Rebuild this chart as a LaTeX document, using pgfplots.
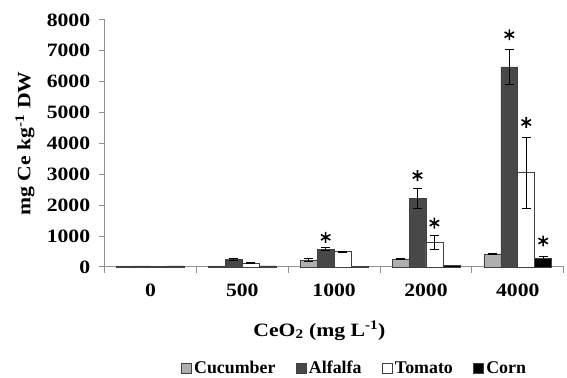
\documentclass[border=0pt]{standalone}
\usepackage{fontspec}
\setmainfont{Liberation Serif}[FakeStretch=1.15]
\newfontfamily\legfont{Liberation Serif}
\usepackage{pgfplots}
\pgfplotsset{compat=1.18}
\usepackage{pgfplotstable}

\definecolor{cuc}{RGB}{175,175,175}
\definecolor{alf}{RGB}{72,72,72}
\definecolor{axgray}{RGB}{145,145,145}

% bar values (x = category index)
\pgfplotstableread{
x y
0 30
1 30
2 230
3 260
4 420
}\cucumber
\pgfplotstableread{
x y
0 30
1 250
2 570
3 2220
4 6480
}\alfalfa
\pgfplotstableread{
x y
0 30
1 120
2 490
3 800
4 3050
}\tomato
\pgfplotstableread{
x y
0 30
1 30
2 20
3 50
4 280
}\corn
% error bars (x = bar centre)
\pgfplotstableread{
x y e
1.7234 230 40
2.7234 260 30
3.7234 420 30
}\cucumberErr
\pgfplotstableread{
x y e
0.9078 250 30
1.9078 570 50
2.9078 2220 320
3.9078 6480 560
}\alfalfaErr
\pgfplotstableread{
x y e
1.0922 120 20
2.0922 490 20
3.0922 800 230
4.0922 3050 1150
}\tomatoErr
\pgfplotstableread{
x y e
4.2766 280 60
}\cornErr
\pgfplotstableread{
x y
1.9078 960
2.9078 2960
3.0922 1420
3.9078 7520
4.0922 4680
4.2766 840
}\stars

\begin{document}
\begin{tikzpicture}
\begin{axis}[
  scale only axis,
  width=461bp, height=248bp,
  xmin=-0.5, xmax=4.5,
  ymin=0, ymax=8000,
  axis x line*=bottom, axis y line*=left,
  axis line style={draw=axgray, line width=1pt},
  xtick={-0.5,0.5,1.5,2.5,3.5,4.5},
  xticklabels={},
  extra x ticks={0,1,2,3,4},
  extra x tick labels={0,500,1000,2000,4000},
  extra x tick style={major tick length=0pt, xticklabel style={yshift=-14bp}},
  ytick={0,1000,...,8000},
  major tick length=6bp,
  tick style={draw=axgray, line width=1pt},
  tick align=outside,
  tick label style={font=\fontsize{19}{22}\selectfont\bfseries},
  scaled y ticks=false,
  yticklabel style={/pgf/number format/1000 sep={}, xshift=-5bp},
  /pgf/number format/assume math mode=true,
  label style={font=\fontsize{19}{22}\selectfont\bfseries},
  xlabel={CeO\textsubscript{2} (mg L\textsuperscript{-1})},
  ylabel={mg Ce kg\textsuperscript{-1} DW},
  xlabel style={at={(axis description cs:0.468,0)}, anchor=center, yshift=-64bp},
  ylabel style={at={(axis description cs:0,0.5)}, anchor=center, yshift=80bp},
  legend columns=4,
  legend style={draw=none, at={(0.545,-0.411)}, anchor=center,
    font=\legfont\fontsize{18}{20}\selectfont\bfseries,
    inner sep=0pt, nodes={inner xsep=2.5bp},
    /tikz/every odd column/.append style={column sep=0bp},
    /tikz/every even column/.append style={column sep=18bp}},
  legend image code/.code={\draw[#1, line width=0.6pt] (0bp,-4.5bp) rectangle (10bp,5.5bp);},
  clip=false,
  mybar/.style={ybar, bar width=17bp, draw=black!75, line width=0.6pt},
  myerr/.style={draw=none, mark=none, forget plot,
    error bars/y dir=both, error bars/y explicit,
    error bars/error bar style={draw=black, line width=0.8pt},
    error bars/error mark options={draw=black, rotate=90, mark size=4.5bp, line width=0.8pt}},
]
\addplot[mybar, fill=cuc, bar shift=-25.5bp] table[x=x, y=y]{\cucumber};
\addlegendentry{Cucumber}
\addplot[mybar, fill=alf, bar shift=-8.5bp] table[x=x, y=y]{\alfalfa};
\addlegendentry{Alfalfa}
\addplot[mybar, fill=white, bar shift=8.5bp] table[x=x, y=y]{\tomato};
\addlegendentry{Tomato}
\addplot[mybar, fill=black, bar shift=25.5bp] table[x=x, y=y]{\corn};
\addlegendentry{Corn}
\addplot[myerr] table[x=x, y=y, y error=e]{\cucumberErr};
\addplot[myerr] table[x=x, y=y, y error=e]{\alfalfaErr};
\addplot[myerr] table[x=x, y=y, y error=e]{\tomatoErr};
\addplot[myerr] table[x=x, y=y, y error=e]{\cornErr};
\addplot[only marks, mark=asterisk, mark size=5.5bp, mark options={black, line width=1.6pt}, forget plot] table[x=x, y=y]{\stars};
\end{axis}
\useasboundingbox (-105bp,-109bp) rectangle (462bp,268bp);
\end{tikzpicture}
\end{document}
